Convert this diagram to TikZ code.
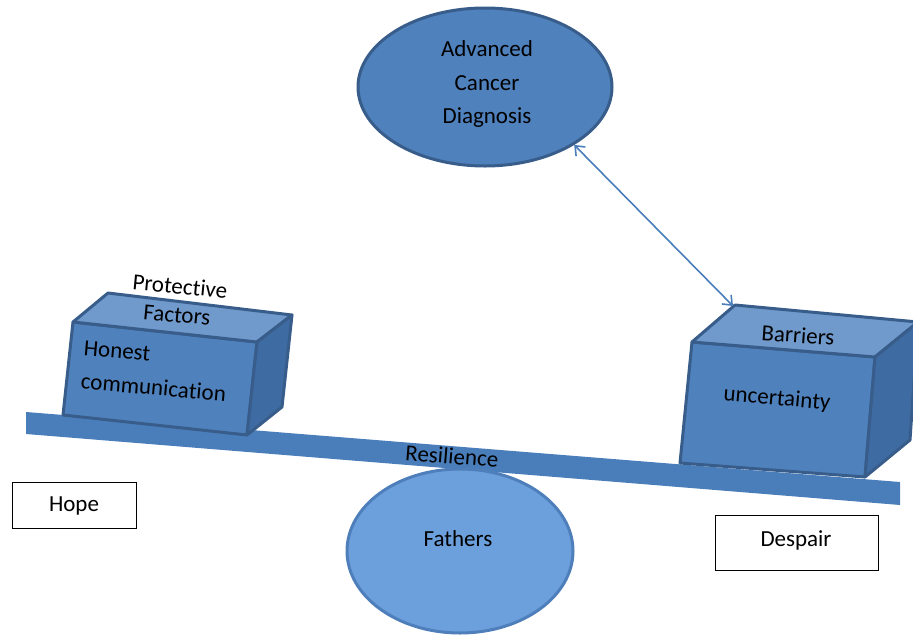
\documentclass[tikz,border=0pt]{standalone}
\usepackage{fontspec}
\setmainfont[Ligatures={NoCommon,NoRare,NoDiscretionary}]{Carlito}
\usetikzlibrary{shapes.geometric,arrows.meta}
\definecolor{faceblue}{HTML}{4F81BD}
\definecolor{topblue}{HTML}{7099CC}
\definecolor{sideblue}{HTML}{3F6BA3}
\definecolor{edgeblue}{HTML}{385D8A}
\definecolor{plankblue}{HTML}{4A7EBB}
\definecolor{pivotblue}{HTML}{6CA0DD}
\definecolor{pivotedge}{HTML}{4F7FBA}
\tikzset{
  txt/.style={font=\fontsize{23}{33.5}\selectfont, inner sep=0pt},
  facet/.style={draw=edgeblue, line width=3pt, line join=round},
  labelbox/.style={draw=black, line width=1pt, fill=white, inner sep=0pt},
  link/.style={draw=plankblue, line width=1.6pt, {Straight Barb[length=8pt,width=13pt]}-{Straight Barb[length=8pt,width=13pt]}}
}
\begin{document}
\begin{tikzpicture}[x=1pt,y=-1pt]
\useasboundingbox (0,0) rectangle (913,635);

% balance plank
\fill[plankblue] (26,412) -- (900,482) -- (900,505) -- (26,434) -- cycle;
\node[txt, rotate=-4.6] (resil) at (452,456) {Resilience};

% pivot
\node[ellipse, draw=pivotedge, fill=pivotblue, line width=3pt,
      minimum width=226pt, minimum height=164pt, inner sep=0pt] (pivot) at (460,551) {};
\node[txt] (fathers) at (458,539) {Fathers};

% left weight: protective factors
\filldraw[facet, fill=faceblue] (73,322) -- (257,342) -- (247,435) -- (63,415) -- cycle;
\filldraw[facet, fill=topblue] (73,322) -- (108,293) -- (292,315) -- (257,342) -- cycle;
\filldraw[facet, fill=sideblue] (257,342) -- (292,315) -- (282,407) -- (247,435) -- cycle;
\node[txt, rotate=-5.5] (prot) at (180,286) {Protective};
\node[txt, rotate=-5.5] (fact) at (177,315) {Factors};
\node[txt, rotate=-5, align=left] (honest) at (155,371) {Honest\\communication};

% right weight: barriers
\filldraw[facet, fill=faceblue] (692,342) -- (875,357) -- (865,477) -- (680,463) -- cycle;
\filldraw[facet, fill=topblue] (692,342) -- (735,305) -- (918,322) -- (875,357) -- cycle;
\filldraw[facet, fill=sideblue] (875,357) -- (918,322) -- (910,440) -- (865,477) -- cycle;
\coordinate (barrtop) at (733,306);
\node[txt, rotate=-4] (barr) at (798,335) {Barriers};
\node[txt, rotate=-5] (uncert) at (777,399) {uncertainty};

% diagnosis
\node[ellipse, draw=edgeblue, fill=faceblue, line width=3pt,
      minimum width=254pt, minimum height=158pt, inner sep=0pt] (diag) at (485,87) {};
\node[txt, align=center] (diagtxt) at (487,84) {Advanced\\Cancer\\Diagnosis};
\draw[link] (diag.-33) -- (barrtop);

% outcome labels
\node[labelbox, minimum width=124pt, minimum height=46pt] (hope) at (74,505) {};
\node[txt] at (74,506) {Hope};
\node[labelbox, minimum width=163pt, minimum height=55pt] (despair) at (796.5,542.5) {};
\node[txt] at (796,540) {Despair};
\end{tikzpicture}
\end{document}
